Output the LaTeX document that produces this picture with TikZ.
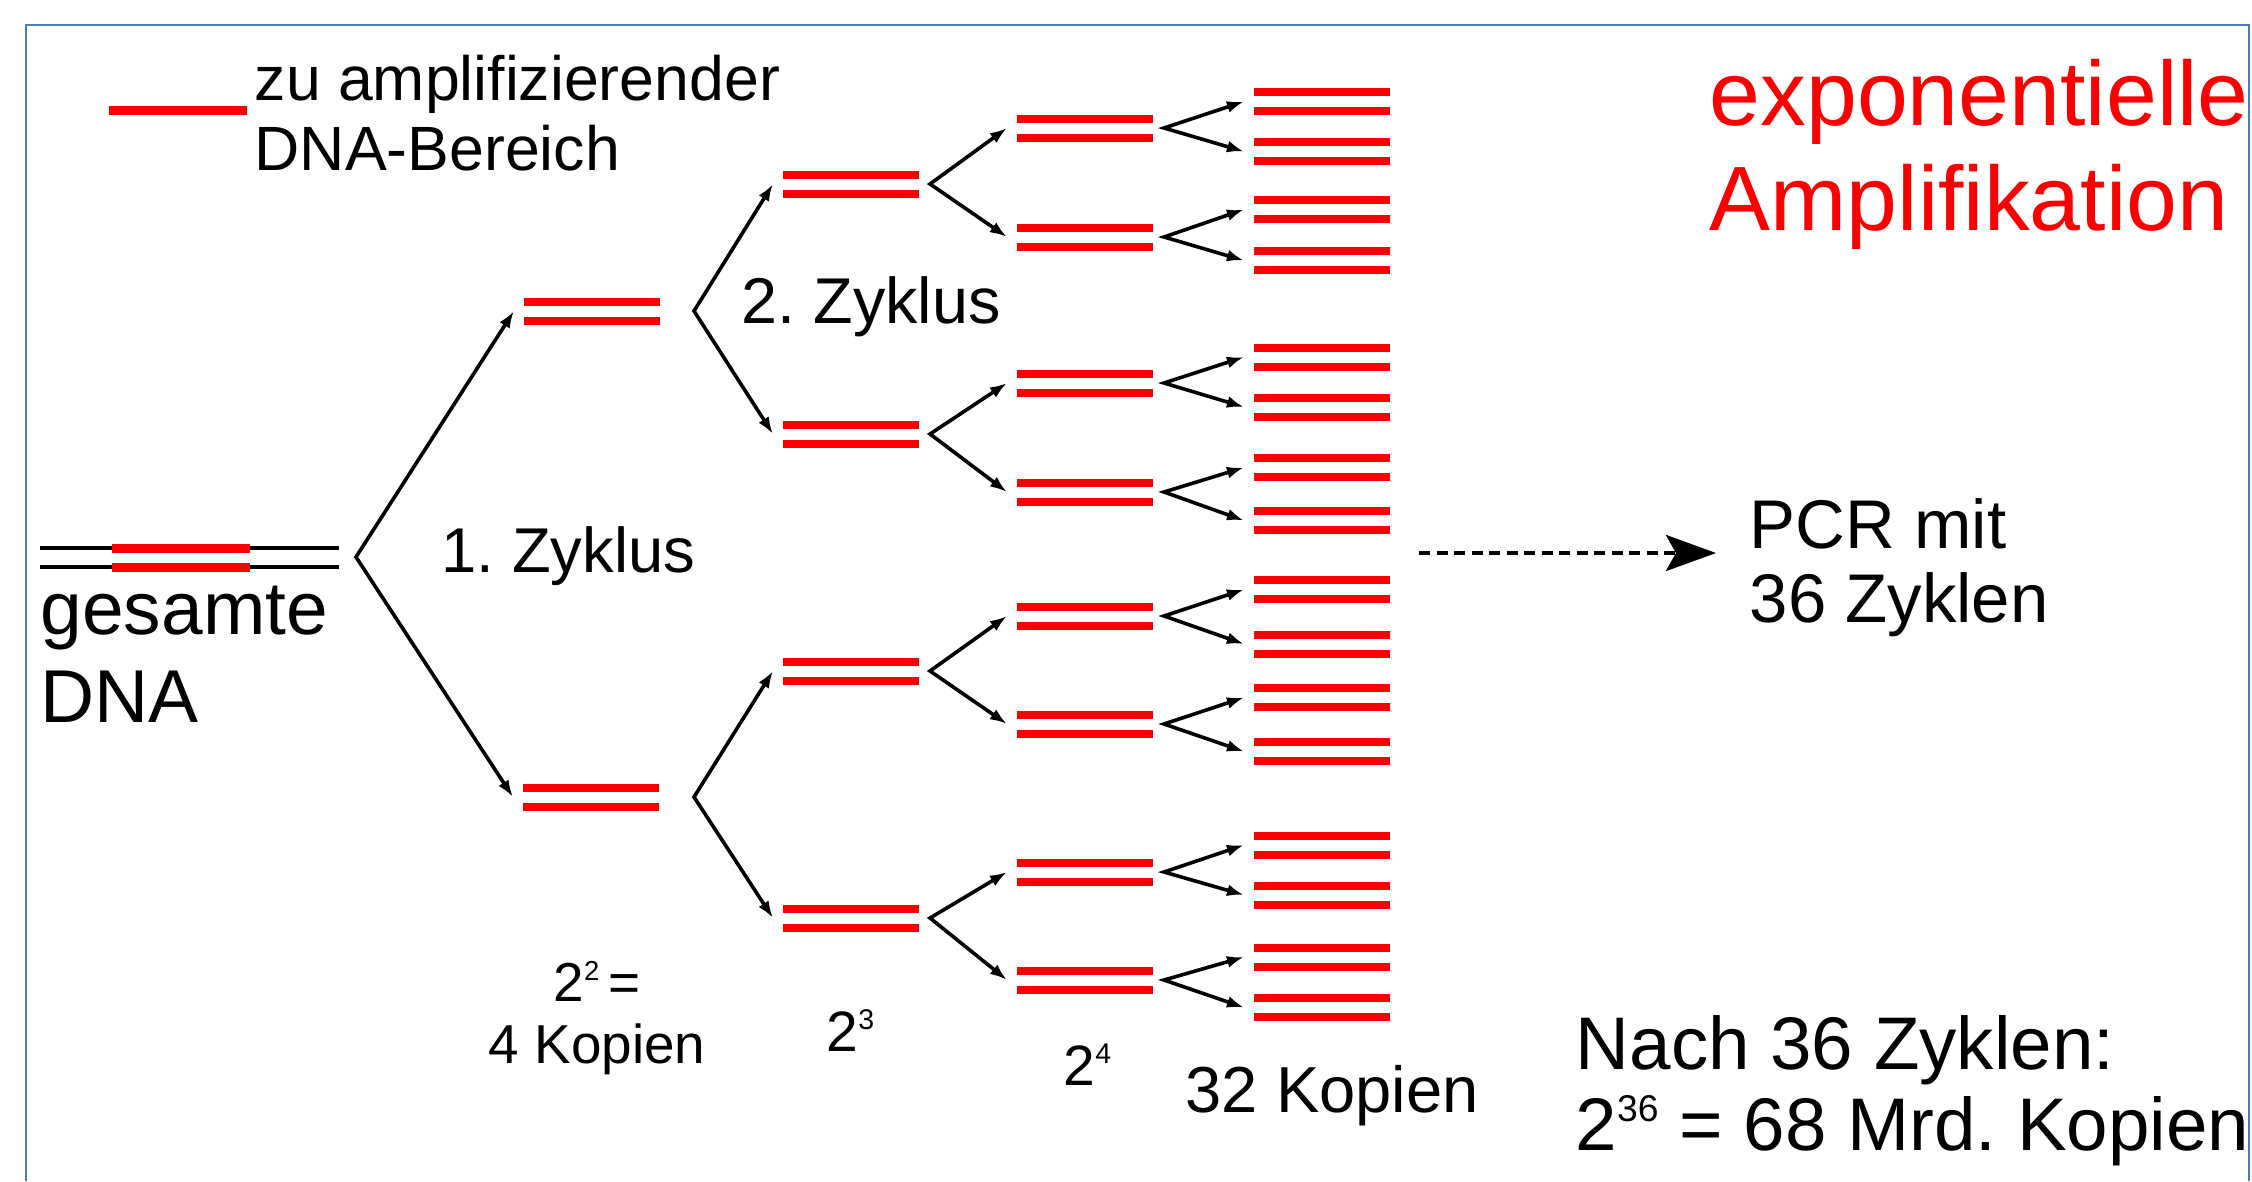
\documentclass[tikz,border=0pt]{standalone}
\usepackage{fontspec}
\setmainfont{Liberation Sans}
\usepackage{graphicx}
\usetikzlibrary{positioning, arrows.meta}
\definecolor{dnared}{RGB}{250,0,0}
\definecolor{rahmen}{RGB}{74,126,187}
\frenchspacing

\newcommand{\hoch}[1]{\raisebox{0.38em}{\scalebox{0.5}{#1}}}

\tikzset{
  pair/.style={inner sep=0pt, outer xsep=0.1cm, minimum width=1.36cm, minimum height=0.3cm,
    path picture={
      \draw[dnared, line width=0.08cm]
        ([yshift=0.095cm]path picture bounding box.west) -- ([yshift=0.095cm]path picture bounding box.east)
        ([yshift=-0.095cm]path picture bounding box.west) -- ([yshift=-0.095cm]path picture bounding box.east);
    }},
  gesdna/.style={inner sep=0pt, minimum width=2.99cm, minimum height=0.35cm,
    path picture={
      \draw[black, line width=0.035cm]
        ([yshift=0.095cm]path picture bounding box.west) -- ([yshift=0.095cm]path picture bounding box.east)
        ([yshift=-0.095cm]path picture bounding box.west) -- ([yshift=-0.095cm]path picture bounding box.east);
      \draw[dnared, line width=0.09cm]
        ([xshift=0.72cm, yshift=0.095cm]path picture bounding box.west) -- ([xshift=-0.89cm, yshift=0.095cm]path picture bounding box.east)
        ([xshift=0.72cm, yshift=-0.095cm]path picture bounding box.west) -- ([xshift=-0.89cm, yshift=-0.095cm]path picture bounding box.east);
    }},
  txt/.style={inner sep=0pt, anchor=base west, align=left},
  gabel/.style={{Latex[length=0.17cm, width=0.12cm]}-{Latex[length=0.17cm, width=0.12cm]}, line width=0.036cm},
  dasharr/.style={-{Stealth[length=0.5cm, width=0.36cm, inset=0.1cm]}, line width=0.04cm, dash pattern=on 0.11cm off 0.065cm}
}

\begin{document}
\begin{tikzpicture}[x=0.01cm, y=-0.01cm]

        \useasboundingbox (0,0) rectangle (2252,1181);
        \fill[white] (0,0) rectangle (2252,1181);
        \draw[rahmen, line width=0.02cm] (26,1181) -- (26,25) -- (2249,25) -- (2249,1181);

        % Legend
        \draw[dnared, line width=0.09cm] (109,110) -- (247,110);
        \node[txt, font=\fontsize{17.8}{19.9}\selectfont] (leg) at (254,170) {zu amplifizierender\\DNA-Bereich};

        % Nodes
        \node[gesdna] (dna) at (189.5,557.5) {};
        \node[pair] (p1a) at (592,311) {};
        \node[pair] (p1b) at (591,797) {};
        \node[pair] (p2a) at (851,184) {};
        \node[pair] (p2b) at (851,434) {};
        \node[pair] (p2c) at (851,671) {};
        \node[pair] (p2d) at (851,918) {};
        \node[pair] (p3a) at (1085,128) {};
        \node[pair] (p3b) at (1085,237) {};
        \node[pair] (p3c) at (1085,383) {};
        \node[pair] (p3d) at (1085,492) {};
        \node[pair] (p3e) at (1085,616) {};
        \node[pair] (p3f) at (1085,724) {};
        \node[pair] (p3g) at (1085,872) {};
        \node[pair] (p3h) at (1085,980) {};
        \node[pair] (p4a) at (1322,101.5) {};
        \node[pair] (p4b) at (1322,151.5) {};
        \node[pair] (p4c) at (1322,209.5) {};
        \node[pair] (p4d) at (1322,260.5) {};
        \node[pair] (p4e) at (1322,357) {};
        \node[pair] (p4f) at (1322,407) {};
        \node[pair] (p4g) at (1322,467.5) {};
        \node[pair] (p4h) at (1322,520.5) {};
        \node[pair] (p4i) at (1322,589.5) {};
        \node[pair] (p4j) at (1322,644) {};
        \node[pair] (p4k) at (1322,697.5) {};
        \node[pair] (p4l) at (1322,751.5) {};
        \node[pair] (p4m) at (1322,845) {};
        \node[pair] (p4n) at (1322,895) {};
        \node[pair] (p4o) at (1322,957) {};
        \node[pair] (p4p) at (1322,1007.5) {};

        % Branch points
        \coordinate (v0) at (356,557);
        \coordinate (v1a) at (694,311);
        \coordinate (v1b) at (694,797);
        \coordinate (v2a) at (930,184);
        \coordinate (v2b) at (930,434);
        \coordinate (v2c) at (930,671);
        \coordinate (v2d) at (930,918);
        \coordinate (v3a) at (1164,128);
        \coordinate (v3b) at (1164,237);
        \coordinate (v3c) at (1164,383);
        \coordinate (v3d) at (1164,492);
        \coordinate (v3e) at (1164,616);
        \coordinate (v3f) at (1164,724);
        \coordinate (v3g) at (1164,872);
        \coordinate (v3h) at (1164,980);

        % Edges
        \draw[gabel] (p1a.west) -- (v0) -- (p1b.west);
        \draw[gabel] (p2a.west) -- (v1a) -- (p2b.west);
        \draw[gabel] (p2c.west) -- (v1b) -- (p2d.west);
        \draw[gabel] (p3a.west) -- (v2a) -- (p3b.west);
        \draw[gabel] (p3c.west) -- (v2b) -- (p3d.west);
        \draw[gabel] (p3e.west) -- (v2c) -- (p3f.west);
        \draw[gabel] (p3g.west) -- (v2d) -- (p3h.west);
        \draw[gabel] (p4a.west) -- (v3a) -- (p4b.west);
        \draw[gabel] (p4c.west) -- (v3b) -- (p4d.west);
        \draw[gabel] (p4e.west) -- (v3c) -- (p4f.west);
        \draw[gabel] (p4g.west) -- (v3d) -- (p4h.west);
        \draw[gabel] (p4i.west) -- (v3e) -- (p4j.west);
        \draw[gabel] (p4k.west) -- (v3f) -- (p4l.west);
        \draw[gabel] (p4m.west) -- (v3g) -- (p4n.west);
        \draw[gabel] (p4o.west) -- (v3h) -- (p4p.west);

        % Labels
        \node[txt, font=\fontsize{21.3}{24.8}\selectfont] (dnatxt) at (40,722) {gesamte\\DNA};
        \node[txt, font=\fontsize{18}{20}\selectfont] (zyk1) at (441,572) {1. Zyklus};
        \node[txt, font=\fontsize{18.4}{20}\selectfont] (zyk2) at (741,323) {2. Zyklus};
        \node[txt, anchor=base, align=center, font=\fontsize{15.6}{17.6}\selectfont] (kop4) at (597,1063) {2\hoch{2}\,=\\4 Kopien};
        \node[txt, font=\fontsize{16.2}{18}\selectfont] (hoch3) at (826,1051) {2\hoch{3}};
        \node[txt, font=\fontsize{16.2}{18}\selectfont] (hoch4) at (1063,1085) {2\hoch{4}};
        \node[txt, font=\fontsize{18.5}{20}\selectfont] (kop32) at (1185,1112) {32 Kopien};
        \node[txt, font=\fontsize{19.6}{21}\selectfont] (pcr) at (1749,622) {PCR mit\\36 Zyklen};
        \node[txt, text=dnared, font=\fontsize{26}{29.6}\selectfont] (titel) at (1709,230) {exponentielle\\Amplifikation};
        \node[txt, font=\fontsize{21.2}{23}\selectfont] (nach) at (1575,1150) {Nach 36 Zyklen:\\2\hoch{36} = 68 Mrd. Kopien};

        \coordinate (dstart) at (1419,553);
        \draw[dasharr, shorten >=0.33cm] (dstart) -- (dstart -| pcr.west);

\end{tikzpicture}
\end{document}
